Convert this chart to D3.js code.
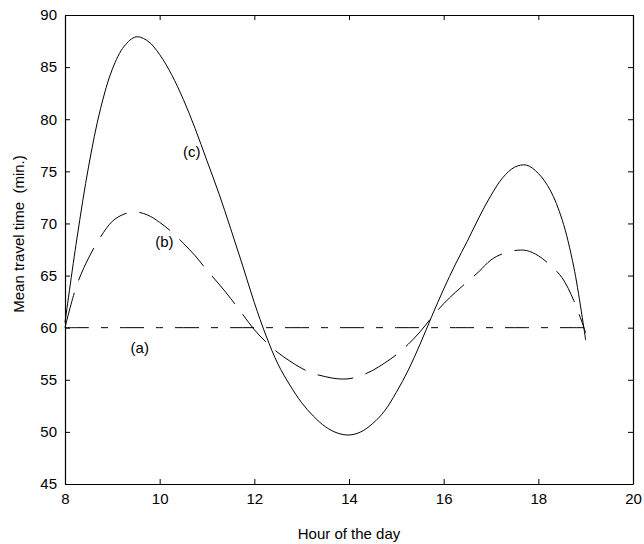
<!DOCTYPE html>
<html lang="en">
<head>
  <meta charset="UTF-8">
  <title>Mean travel time</title>
  <style>
    body { margin: 0; background: #fff; }
    text { font-family: Arial, "Liberation Sans", sans-serif; }
  </style>
</head>
<body>
  <div class="canvas"></div>
  <script src="https://d3js.org/d3.v7.min.js"></script>
  <script>
      const width = 644;
      const height = 544;
      const margin = {'top': 15, 'right': 11, 'bottom': 60, 'left': 65};
      const graphWidth = width - margin.left - margin.right;
      const graphHeight = height - margin.top - margin.bottom;

      // hours of the day, sampled every quarter hour
      const hours = [8, 8.25, 8.5, 8.75, 9, 9.25, 9.5, 9.75, 10, 10.25, 10.5, 10.75,
        11, 11.25, 11.5, 11.75, 12, 12.25, 12.5, 12.75, 13, 13.25, 13.5, 13.75,
        14, 14.25, 14.5, 14.75, 15, 15.25, 15.5, 15.75, 16, 16.25, 16.5, 16.75,
        17, 17.25, 17.5, 17.75, 18, 18.25, 18.5, 18.75, 19];

      // (a) constant
      const seriesA = hours.map(() => 60);

      // (b) dashed
      const seriesB = [60, 64.1, 66.7, 68.7, 70.2, 70.9, 71.1, 70.8, 70.1, 69.2, 68.1, 66.9,
        65.5, 64.2, 62.8, 61.3, 59.8, 58.6, 57.6, 56.8, 56.1, 55.6, 55.3, 55.1,
        55.1, 55.4, 55.9, 56.6, 57.4, 58.4, 59.6, 61.0, 62.3, 63.4, 64.4, 65.4,
        66.5, 67.1, 67.4, 67.4, 66.9, 66.0, 64.8, 62.6, 59.5];

      // (c) solid
      const seriesC = [60.5, 68.5, 75.5, 81, 84.8, 87, 87.9, 87.5, 86.2, 84.3, 81.9, 79.1,
        76.0, 72.9, 69.5, 66.0, 62.4, 59.2, 56.5, 54.5, 52.8, 51.5, 50.5, 49.9,
        49.7, 50.0, 50.8, 52.0, 53.8, 55.9, 58.4, 61.1, 63.7, 66.1, 68.3, 70.6,
        72.7, 74.4, 75.4, 75.6, 74.8, 73.2, 70.4, 65.8, 58.8];

      const xTicks = [8, 10, 12, 14, 16, 18, 20];
      const yTicks = [45, 50, 55, 60, 65, 70, 75, 80, 85, 90];

      const labels = [
        {'text': '(a)', 'x': 9.58, 'y': 57.6},
        {'text': '(b)', 'x': 10.1, 'y': 67.7},
        {'text': '(c)', 'x': 10.68, 'y': 76.4}
      ];

      const svg = d3.select('.canvas')
        .append('svg')
        .attr('width', width)
        .attr('height', height);

      const graph = svg.append('g')
        .attr('transform', `translate(${margin.left}, ${margin.top})`);

      const x = d3.scaleLinear()
        .domain([8, 20])
        .range([0, graphWidth]);

      const y = d3.scaleLinear()
        .domain([45, 90])
        .range([graphHeight, 0]);

      const styleAxis = g => {
        g.selectAll('path').attr('stroke', '#000').attr('stroke-width', 1.2);
        g.selectAll('line').attr('stroke', '#000');
        g.selectAll('text').style('font-size', '15px').attr('fill', '#000');
      };

      graph.append('g')
        .attr('transform', `translate(0, ${graphHeight})`)
        .call(d3.axisBottom(x).tickValues(xTicks).tickSize(-5).tickSizeOuter(0).tickPadding(9))
        .call(styleAxis);

      graph.append('g')
        .call(d3.axisLeft(y).tickValues(yTicks).tickSize(-5).tickSizeOuter(0).tickPadding(8))
        .call(styleAxis);

      graph.append('g')
        .call(d3.axisTop(x).tickValues(xTicks).tickSize(-5).tickSizeOuter(0).tickFormat(''))
        .call(styleAxis);

      graph.append('g')
        .attr('transform', `translate(${graphWidth}, 0)`)
        .call(d3.axisRight(y).tickValues(yTicks).tickSize(-5).tickSizeOuter(0).tickFormat(''))
        .call(styleAxis);

      const line = d3.line()
        .x(d => x(d[0]))
        .y(d => y(d[1]))
        .curve(d3.curveCatmullRom);

      const series = [
        {'values': seriesA, 'dash': '24,12,7,12'},
        {'values': seriesB, 'dash': '36,13'},
        {'values': seriesC, 'dash': null}
      ];

      graph.selectAll('path.series')
        .data(series)
        .enter()
        .append('path')
        .attr('class', 'series')
        .attr('fill', 'none')
        .attr('stroke', '#000')
        .attr('stroke-width', 1)
        .attr('stroke-dasharray', d => d.dash)
        .attr('d', d => line(hours.map((h, i) => [h, d.values[i]])));

      graph.selectAll('text.label')
        .data(labels)
        .enter()
        .append('text')
        .attr('class', 'label')
        .attr('x', d => x(d.x))
        .attr('y', d => y(d.y))
        .attr('text-anchor', 'middle')
        .style('font-size', '15px')
        .text(d => d.text);

      svg.append('text')
        .attr('x', margin.left + graphWidth / 2)
        .attr('y', 539)
        .attr('text-anchor', 'middle')
        .style('font-size', '15px')
        .text('Hour of the day');

      svg.append('text')
        .attr('transform', 'translate(24, 234) rotate(-90)')
        .attr('text-anchor', 'middle')
        .style('font-size', '15px')
        .style('white-space', 'pre')
        .text('Mean travel time  (min.)');
  </script>
</body>
</html>
